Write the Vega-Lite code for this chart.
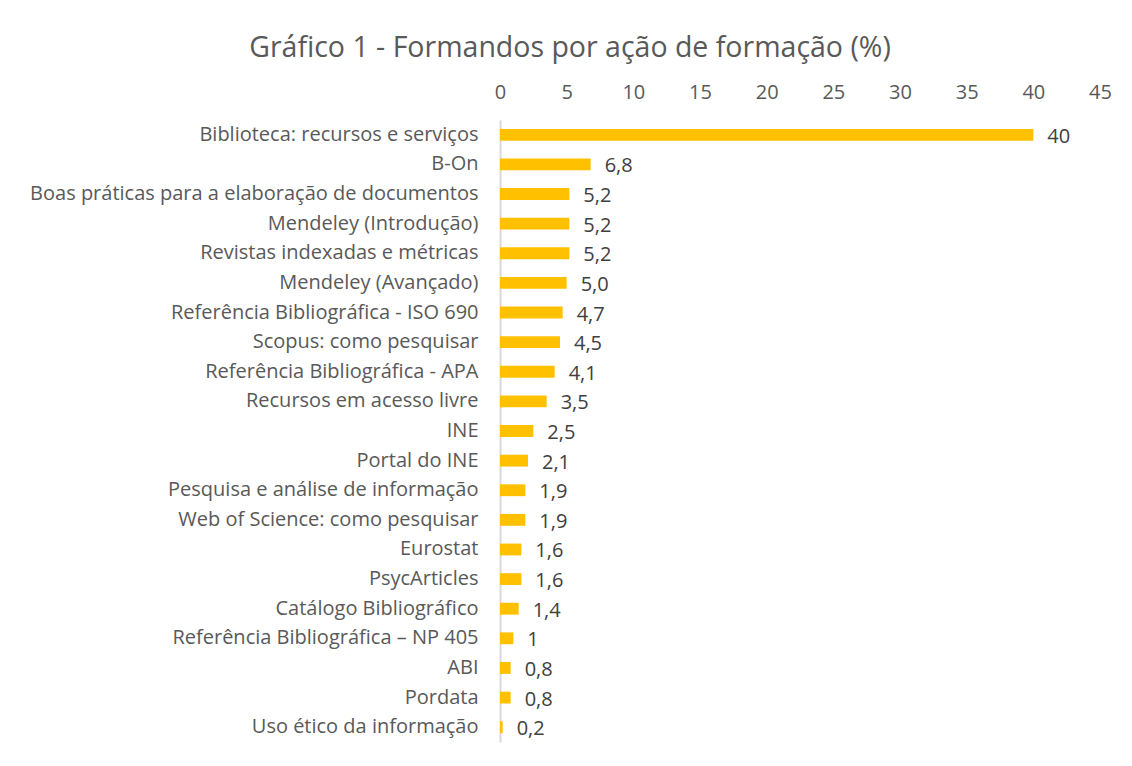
{
  "$schema": "https://vega.github.io/schema/vega-lite/v6.json",
  "autosize": "none",
  "width": 600,
  "height": 622,
  "padding": {"left": 500, "top": 120, "right": 32, "bottom": 24},
  "background": "white",
  "title": {
    "text": "Gráfico 1 - Formandos por ação de formação (%)",
    "anchor": "middle",
    "frame": "group",
    "dx": -230,
    "offset": 20,
    "fontSize": 28.5,
    "font": "Open Sans",
    "fontWeight": "normal",
    "color": "#595959"
  },
  "data": {
    "values": [
      {"acao": "Biblioteca: recursos e serviços", "valor": 40, "rotulo": "40"},
      {"acao": "B-On", "valor": 6.8, "rotulo": "6,8"},
      {"acao": "Boas práticas para a elaboração de documentos", "valor": 5.2, "rotulo": "5,2"},
      {"acao": "Mendeley (Introdução)", "valor": 5.2, "rotulo": "5,2"},
      {"acao": "Revistas indexadas e métricas", "valor": 5.2, "rotulo": "5,2"},
      {"acao": "Mendeley (Avançado)", "valor": 5.0, "rotulo": "5,0"},
      {"acao": "Referência Bibliográfica - ISO 690", "valor": 4.7, "rotulo": "4,7"},
      {"acao": "Scopus: como pesquisar ", "valor": 4.5, "rotulo": "4,5"},
      {"acao": "Referência Bibliográfica - APA", "valor": 4.1, "rotulo": "4,1"},
      {"acao": "Recursos em acesso livre", "valor": 3.5, "rotulo": "3,5"},
      {"acao": "INE", "valor": 2.5, "rotulo": "2,5"},
      {"acao": "Portal do INE", "valor": 2.1, "rotulo": "2,1"},
      {"acao": "Pesquisa e análise de informação", "valor": 1.9, "rotulo": "1,9"},
      {"acao": "Web of Science: como pesquisar", "valor": 1.9, "rotulo": "1,9"},
      {"acao": "Eurostat", "valor": 1.6, "rotulo": "1,6"},
      {"acao": "PsycArticles", "valor": 1.6, "rotulo": "1,6"},
      {"acao": "Catálogo Bibliográfico", "valor": 1.4, "rotulo": "1,4"},
      {"acao": "Referência Bibliográfica – NP 405", "valor": 1, "rotulo": "1"},
      {"acao": "ABI", "valor": 0.8, "rotulo": "0,8"},
      {"acao": "Pordata", "valor": 0.8, "rotulo": "0,8"},
      {"acao": "Uso ético da informação", "valor": 0.2, "rotulo": "0,2"}
    ]
  },
  "encoding": {
    "y": {
      "field": "acao",
      "type": "nominal",
      "sort": null,
      "scale": {"paddingInner": 0.6, "paddingOuter": 0.3},
      "axis": {
        "title": null,
        "ticks": false,
        "domain": true,
        "domainColor": "#d9d9d9",
        "domainWidth": 2,
        "labelPadding": 22,
        "labelFont": "Open Sans",
        "labelFontSize": 20,
        "labelColor": "#595959",
        "labelLimit": 600
      }
    },
    "x": {
      "field": "valor",
      "type": "quantitative",
      "scale": {"domain": [0, 45], "nice": false},
      "axis": {
        "orient": "top",
        "title": null,
        "values": [0, 5, 10, 15, 20, 25, 30, 35, 40, 45],
        "grid": false,
        "ticks": false,
        "domain": false,
        "labelPadding": 18,
        "labelFont": "Open Sans",
        "labelFontSize": 20,
        "labelColor": "#595959",
        "labelFlush": false
      }
    }
  },
  "layer": [
    {"mark": {"type": "bar", "color": "#FFC000"}},
    {
      "mark": {
        "type": "text",
        "align": "left",
        "baseline": "middle",
        "dx": 14,
        "dy": 2,
        "font": "Open Sans",
        "fontSize": 20,
        "color": "#404040"
      },
      "encoding": {"text": {"field": "rotulo"}}
    }
  ],
  "config": {"view": {"stroke": null}}
}
